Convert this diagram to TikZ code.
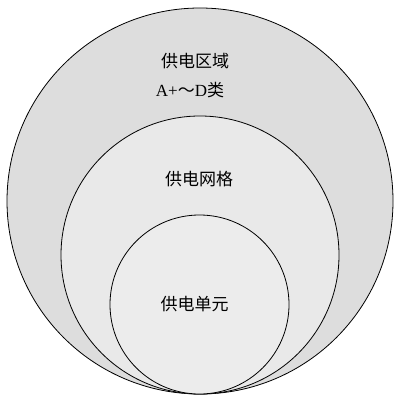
\documentclass[tikz,border=0pt]{standalone}
\usepackage{fontspec}
\setmainfont{Liberation Serif}
\newfontfamily\cjk{Noto Sans CJK SC}
\definecolor{outerfill}{gray}{0.865}
\definecolor{midfill}{gray}{0.915}
\definecolor{innerfill}{gray}{0.925}
\begin{document}
\begin{tikzpicture}[x=1pt,y=-1pt,
  ring/.style={circle, draw=black, line width=0.8pt, inner sep=0pt, outer sep=0pt},
  lbl/.style={inner sep=0pt, font=\fontsize{17}{20}\selectfont\cjk}]
\useasboundingbox (0,0) rectangle (394,395);
\node[ring, fill=outerfill, minimum size=386pt] (outer) at (200,201) {};
\node[ring, fill=midfill, minimum size=278pt] (mid) at (200,255) {};
\node[ring, fill=innerfill, minimum size=179pt] (inner) at (199.5,304.5) {};
\node[lbl] (t1) at (195,61) {供电区域};
\node[lbl] (t2) at (190,90) {{\fontsize{17}{20}\selectfont\rmfamily A+}～{\fontsize{17}{20}\selectfont\rmfamily D}类};
\node[lbl] (t3) at (199,179) {供电网格};
\node[lbl] (t4) at (194.5,304) {供电单元};
\end{tikzpicture}
\end{document}
